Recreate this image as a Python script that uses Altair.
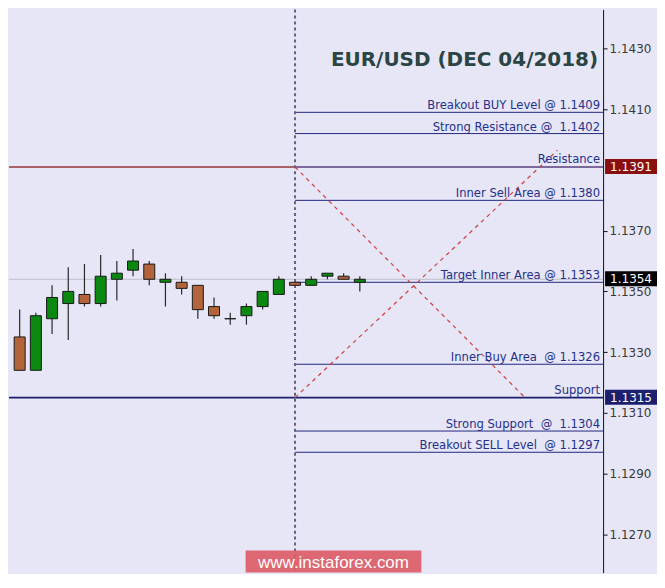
import altair as alt
import pandas as pd

# ---- data ----
candle_idx = list(range(22))
opens  = [1.1335, 1.1324, 1.1341, 1.1346, 1.1349, 1.1346, 1.1354, 1.1357, 1.1359, 1.1353, 1.1353,
          1.1352, 1.1345, 1.1341, 1.1342, 1.1345, 1.1349, 1.1353, 1.1352, 1.1355, 1.1355, 1.1353]
closes = [1.1324, 1.1342, 1.1348, 1.1350, 1.1346, 1.1355, 1.1356, 1.1360, 1.1354, 1.1354, 1.1351,
          1.1344, 1.1342, 1.1341, 1.1345, 1.1350, 1.1354, 1.1352, 1.1354, 1.1356, 1.1354, 1.1354]
highs  = [1.1344, 1.1343, 1.1352, 1.1358, 1.1359, 1.1362, 1.1360, 1.1364, 1.1360, 1.1356, 1.1355,
          1.1352, 1.1348, 1.1343, 1.1346, 1.1350, 1.1355, 1.1353, 1.1355, 1.1356, 1.1356, 1.1355]
lows   = [1.1324, 1.1324, 1.1336, 1.1334, 1.1345, 1.1345, 1.1347, 1.1355, 1.1352, 1.1345, 1.1349,
          1.1341, 1.1341, 1.1339, 1.1339, 1.1344, 1.1349, 1.1352, 1.1352, 1.1354, 1.1354, 1.1350]

level_labels = ["Breakout BUY Level @ 1.1409", "Strong Resistance @\u00a0 1.1402",
                "Inner Sell Area @ 1.1380", "Target Inner Area @ 1.1353",
                "Inner Buy Area\u00a0 @ 1.1326", "Strong Support\u00a0 @\u00a0 1.1304",
                "Breakout SELL Level\u00a0 @ 1.1297"]
level_prices = [1.1409, 1.1402, 1.1380, 1.1353, 1.1326, 1.1304, 1.1297]

resistance = 1.1391
support = 1.1315
current = 1.1354
split_idx = 17  # dotted vertical line position (candle index)

diag_line = ["A", "A", "B", "B"]
diag_x = [17, 31.2, 17, 33.2]
diag_y = [1.1391, 1.1315, 1.1315, 1.13965]

tick_values = [1.1270, 1.1290, 1.1310, 1.1330, 1.1350, 1.1370, 1.1410, 1.1430]

tag_prices = [1.1391, 1.1354, 1.1315]
tag_colors = ["#8a0f0f", "#000000", "#1b1f6e"]

title_text = "EUR/USD (DEC 04/2018)"
watermark = "www.instaforex.com"

# ---- tables ----
candles = pd.DataFrame({"i": candle_idx, "open": opens, "close": closes, "high": highs, "low": lows})
candles["dir"] = ["doji" if o == c else ("up" if c > o else "down") for o, c in zip(opens, closes)]
levels = pd.DataFrame({"label": level_labels, "price": level_prices, "x": split_idx})
diag = pd.DataFrame({"line": diag_line, "x": diag_x, "y": diag_y})
tags = pd.DataFrame({"price": tag_prices, "color": tag_colors,
                     "txt": [f"{p:.4f}" for p in tag_prices]})
rs = pd.DataFrame({"label": ["Resistance", "Support"], "price": [resistance, support],
                   "color": ["#963636", "#1b1f6e"]})

W, H = 595, 564
xs = alt.Scale(domain=[-0.35, 35.71], nice=False, zero=False)
ys = alt.Scale(domain=[1.125737, 1.14429], nice=False, zero=False)
yaxis = alt.Axis(orient="right", values=tick_values, format=".4f", title=None, grid=False,
                 labelFont="DejaVu Sans", labelFontSize=12, labelColor="#3a3a3a",
                 domainColor="#111111", tickColor="#111111", tickSize=4, labelPadding=2,
                 domainWidth=1)

def X(f):
    return alt.X(f, type="quantitative", scale=xs, axis=None)

def Y(f):
    return alt.Y(f, type="quantitative", scale=ys, axis=yaxis)

cur_line = alt.Chart(pd.DataFrame({"price": [current]})).mark_rule(
    color="#bfbfca", strokeWidth=1).encode(y=Y("price"))

rs_lines = alt.Chart(rs).mark_rule(strokeWidth=1.6).encode(
    y=Y("price"), color=alt.Color("color:N", scale=None))

level_lines = alt.Chart(levels).mark_rule(color="#23287e", strokeWidth=1).encode(
    x=X("x"), x2=alt.value(W), y=Y("price"))

res_overlay = alt.Chart(pd.DataFrame({"x": [split_idx], "price": [resistance]})).mark_rule(
    color="#6c6cae", strokeWidth=1.6).encode(x=X("x"), x2=alt.value(W), y=Y("price"))

vline = alt.Chart(pd.DataFrame({"x": [split_idx]})).mark_rule(
    color="#62627a", strokeWidth=2, strokeDash=[3, 3]).encode(x=X("x"))

diag_lines = alt.Chart(diag).mark_line(color="#d04040", strokeWidth=1.2, strokeDash=[4, 4]).encode(
    x=X("x"), y=Y("y"), detail="line:N")

wicks = alt.Chart(candles).mark_rule(color="#2a2a2a", strokeWidth=1.2, clip=True).encode(
    x=X("i"), y=Y("low"), y2="high")

bodies = alt.Chart(candles).mark_bar(size=11, stroke="#1a1a1a", strokeWidth=1, clip=True).encode(
    x=X("i"), y=Y("open"), y2="close",
    color=alt.Color("dir:N", legend=None,
                    scale=alt.Scale(domain=["up", "down", "doji"],
                                    range=["#0a880f", "#b3643a", "#222222"])))

level_text = alt.Chart(levels).mark_text(
    align="right", baseline="alphabetic", dy=-3, font="DejaVu Sans", fontSize=11.6,
    color="#25308a").encode(x=alt.value(W - 3), y=Y("price"), text="label:N")

rs_text = alt.Chart(rs).mark_text(
    align="right", baseline="alphabetic", dy=-4, font="DejaVu Sans", fontSize=11.6,
    color="#25308a").encode(x=alt.value(W - 3), y=Y("price"), text="label:N")

title = alt.Chart(pd.DataFrame({"t": [title_text]})).mark_text(
    align="right", baseline="alphabetic", font="DejaVu Sans", fontWeight="bold", fontSize=20,
    color="#2b4444").encode(x=alt.value(W - 5), y=alt.value(57), text="t:N")

tag_rect = alt.Chart(tags).mark_rect(yOffset=-8, y2Offset=7).encode(
    x=alt.value(W + 2), x2=alt.value(W + 54), y=Y("price"), y2="price",
    color=alt.Color("color:N", scale=None))

tag_text = alt.Chart(tags).mark_text(
    align="center", baseline="middle", font="DejaVu Sans", fontSize=12, color="white").encode(
    x=alt.value(W + 28), y=Y("price"), text="txt:N")

wm_rect = alt.Chart(pd.DataFrame({"t": [watermark]})).mark_rect(
    color="#dc5c66", opacity=0.92).encode(
    x=alt.value(237), x2=alt.value(413), y=alt.value(542), y2=alt.value(H))

wm_text = alt.Chart(pd.DataFrame({"t": [watermark]})).mark_text(
    align="center", baseline="middle", font="Liberation Sans", fontSize=17, color="white").encode(
    x=alt.value(325), y=alt.value(554), text="t:N")

chart = alt.layer(
    cur_line, rs_lines, res_overlay, level_lines, vline, diag_lines, wicks, bodies,
    level_text, rs_text, title, tag_rect, tag_text, wm_rect, wm_text
).properties(
    width=W, height=H, background="#e6e6f6", padding=0
).configure_view(stroke=None)

chart.save("out.html", embed_options={"renderer": "svg", "actions": False})
